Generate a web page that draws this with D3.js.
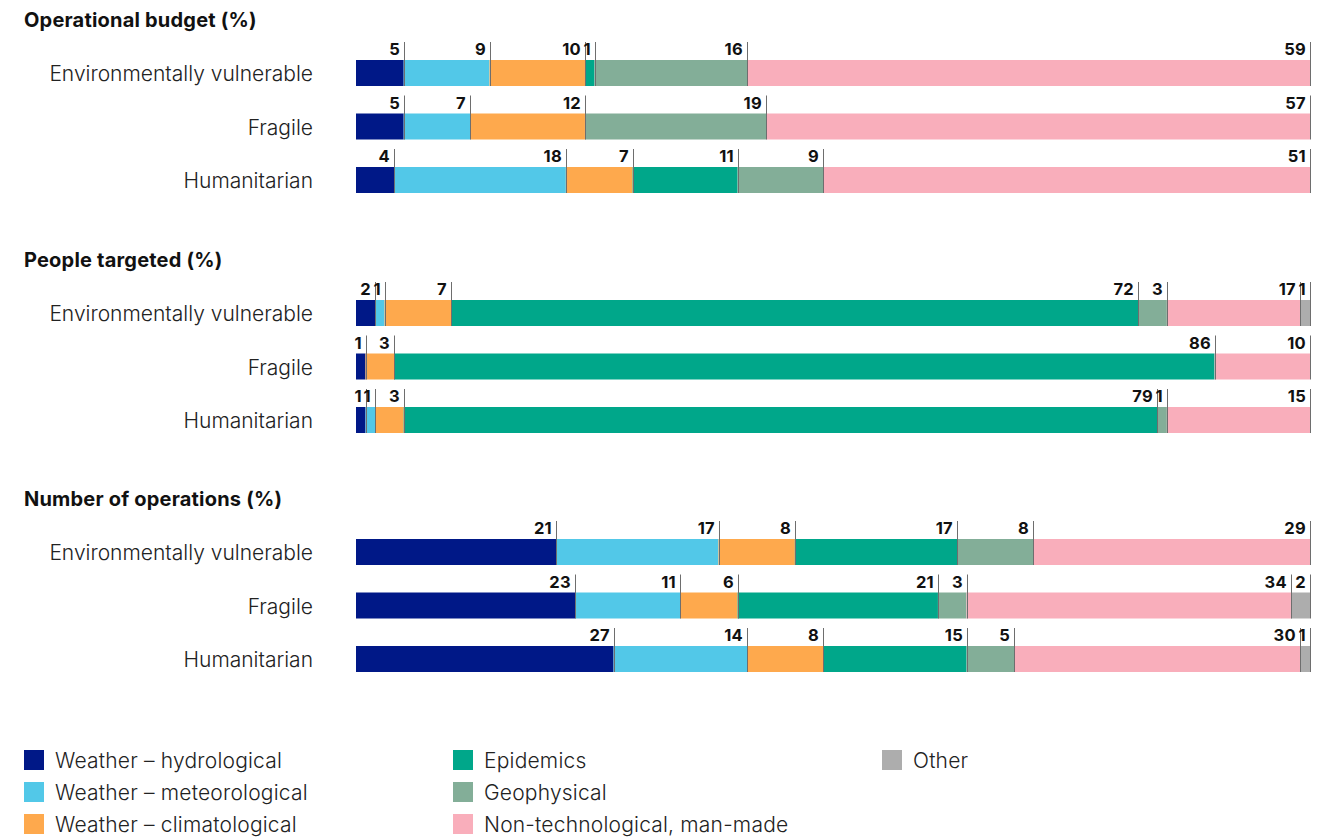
<!DOCTYPE html>
<html>
<head>
<meta charset="utf-8">
<script src="https://cdn.jsdelivr.net/npm/d3@7"></script>
<style>
  body { margin: 0; background: #fff; }
  svg { font-family: Inter, "Noto Sans", sans-serif; }
</style>
</head>
<body>
<div id="chart"></div>
<script>
// categories + colours
const categories = ['Weather – hydrological', 'Weather – meteorological', 'Weather – climatological',
                    'Epidemics', 'Geophysical', 'Non-technological, man-made', 'Other'];
const colours = ['#001887', '#52c8e8', '#fea94d', '#00a78a', '#83ae98', '#f9aebb', '#adadad'];

const rowNames = ['Environmentally vulnerable', 'Fragile', 'Humanitarian'];
const panelTitles = ['Operational budget (%)', 'People targeted (%)', 'Number of operations (%)'];

// values per row, in category order (0 = not present)
const budget = [
    [5, 9, 10, 1, 16, 59, 0],
    [5, 7, 12, 0, 19, 57, 0],
    [4, 18, 7, 11, 9, 51, 0]
];
const people = [
    [2, 1, 7, 72, 3, 14, 1],
    [1, 0, 3, 86, 0, 10, 0],
    [1, 1, 3, 79, 1, 15, 0]
];
// printed labels for people targeted (one label differs from its bar share)
const peopleLabels = [
    [2, 1, 7, 72, 3, 17, 1],
    [1, 0, 3, 86, 0, 10, 0],
    [1, 1, 3, 79, 1, 15, 0]
];
const operations = [
    [21, 17, 8, 17, 8, 29, 0],
    [23, 11, 6, 21, 3, 34, 2],
    [27, 14, 8, 15, 5, 30, 1]
];

const panels = [
    { title: panelTitles[0], values: budget, labels: budget, top: 0 },
    { title: panelTitles[1], values: people, labels: peopleLabels, top: 240 },
    { title: panelTitles[2], values: operations, labels: operations, top: 479 }
];

const [width, height] = [1337, 839];
const svg = d3.select('#chart')
    .append('svg')
    .attr('width', width)
    .attr('height', height);

const x = d3.scaleLinear().domain([0, 100]).range([356, 1310]);
const barH = 26;

// draws one panel: title, row labels, stacked bars, value ticks
function drawPanel(p) {
    const g = svg.append('g').attr('transform', `translate(0 ${p.top})`);

    g.append('text')
        .attr('x', 24)
        .attr('y', 27)
        .style('font-size', '20px')
        .style('font-weight', 700)
        .style('letter-spacing', '0.2px')
        .attr('fill', '#111')
        .text(p.title);

    const yb = (r) => 60 + r * 53.5;

    p.values.forEach((row, r) => {
        const rg = g.append('g').attr('transform', `translate(0 ${yb(r)})`);

        rg.append('text')
            .attr('x', 313)
            .attr('y', barH / 2 + 1)
            .attr('dy', '0.35em')
            .attr('text-anchor', 'end')
            .style('font-size', '21px')
            .style('font-weight', 300)
            .attr('fill', '#222')
            .text(rowNames[r]);

        // cumulative segments
        let acc = 0;
        const segs = [];
        row.forEach((v, i) => {
            if (v > 0) segs.push({ i, x0: acc, x1: acc + v, label: p.labels[r][i] });
            acc += v;
        });

        rg.selectAll('rect')
            .data(segs)
            .join('rect')
            .attr('x', (d) => x(d.x0))
            .attr('y', 0)
            .attr('width', (d) => x(d.x1) - x(d.x0))
            .attr('height', barH)
            .attr('fill', (d) => colours[d.i]);

        rg.selectAll('line')
            .data(segs)
            .join('line')
            .attr('x1', (d) => Math.round(x(d.x1)) + 0.5)
            .attr('x2', (d) => Math.round(x(d.x1)) + 0.5)
            .attr('y1', -18)
            .attr('y2', barH)
            .attr('stroke', '#6e6e6e')
            .attr('stroke-width', 1);

        rg.selectAll('text.val')
            .data(segs)
            .join('text')
            .attr('class', 'val')
            .attr('x', (d) => Math.round(x(d.x1)) - 4)
            .attr('y', -5)
            .attr('text-anchor', 'end')
            .style('font-size', '16.5px')
            .style('font-weight', 700)
            .style('letter-spacing', '0.3px')
            .attr('fill', '#111')
            .text((d) => d.label);
    });
}

panels.forEach(drawPanel);

// legend, three columns
const legend = svg.append('g');
const legX = [24, 453, 882];
legend.selectAll('g')
    .data(categories)
    .join('g')
    .attr('transform', (d, i) => `translate(${legX[Math.floor(i / 3)]} ${750 + (i % 3) * 32})`)
    .each(function (d, i) {
        const item = d3.select(this);
        item.append('rect')
            .attr('width', 20)
            .attr('height', 20)
            .attr('fill', colours[i]);
        item.append('text')
            .attr('x', 31)
            .attr('y', 11)
            .attr('dy', '0.35em')
            .style('font-size', '21px')
            .style('font-weight', 300)
            .style('letter-spacing', '0.2px')
            .attr('fill', '#222')
            .text(d);
    });
</script>
</body>
</html>
